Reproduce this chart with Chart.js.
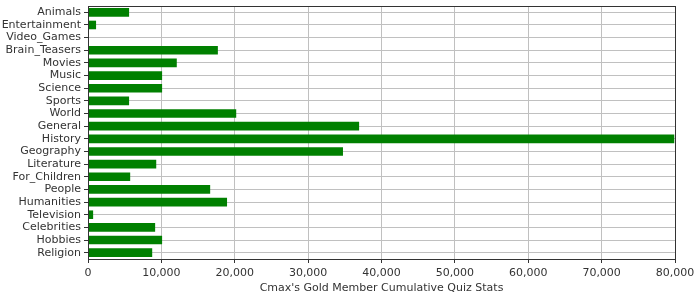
<!DOCTYPE html>
<html>
<head>
<meta charset="utf-8">
<script src="https://cdn.jsdelivr.net/npm/chart.js@4"></script>
<style>
html,body{margin:0;padding:0;background:#fff;}
#wrap{width:700px;height:300px;}
</style>
</head>
<body>
<div id="wrap"><canvas id="c" width="700" height="300"></canvas></div>
<script>
const categories = ["Animals","Entertainment","Video_Games","Brain_Teasers","Movies","Music","Science","Sports","World","General","History","Geography","Literature","For_Children","People","Humanities","Television","Celebrities","Hobbies","Religion"];
const values = [5600,1100,0,17700,12100,10100,10100,5600,20200,36950,79900,34750,9300,5750,16650,18950,700,9150,10100,8750];
const xTicks = [0,10000,20000,30000,40000,50000,60000,70000,80000];
const axisTitle = "Cmax's Gold Member Cumulative Quiz Stats";

const frame = {
  id: 'frame',
  afterDatasetsDraw(chart) {
    const a = chart.chartArea, ctx = chart.ctx;
    ctx.save();
    ctx.strokeStyle = '#333333';
    ctx.lineWidth = 1;
    ctx.strokeRect(Math.round(a.left) + 0.5, Math.round(a.top) + 0.5, Math.round(a.right - a.left) , Math.round(a.bottom - a.top));
    ctx.restore();
  }
};

new Chart(document.getElementById('c'), {
  type: 'bar',
  data: {
    labels: categories,
    datasets: [{
      data: values,
      backgroundColor: '#008000',
      borderWidth: 0,
      categoryPercentage: 1,
      barPercentage: 0.68
    }]
  },
  plugins: [frame],
  options: {
    indexAxis: 'y',
    responsive: false,
    animation: false,
    events: [],
    layout: { padding: { top: 6, right: 25, left: 0, bottom: 0 } },
    plugins: { legend: { display: false }, tooltip: { enabled: false } },
    scales: {
      x: {
        min: 0, max: 80000,
        afterBuildTicks(scale) { scale.ticks = xTicks.map(v => ({ value: v })); },
        afterFit(scale) { scale.height = 41; },
        grid: { color: '#c0c0c0', lineWidth: 1, tickColor: '#333333', tickLength: 4, drawTicks: true },
        border: { display: true, color: '#333333' },
        ticks: { color: '#333333', font: { family: 'DejaVu Sans', size: 11 }, padding: 4, maxRotation: 0 },
        title: { display: true, text: axisTitle, color: '#333333', font: { family: 'DejaVu Sans', size: 11 }, padding: { top: 0, bottom: 5 } }
      },
      y: {
        afterFit(scale) { scale.width = 88; scale.paddingTop = 0; scale.paddingBottom = 0; },
        grid: { offset: false, color: '#c0c0c0', lineWidth: 1, tickColor: '#333333', tickLength: 4, drawTicks: true },
        border: { display: true, color: '#333333' },
        ticks: { color: '#333333', font: { family: 'DejaVu Sans', size: 11 }, padding: 3, autoSkip: false }
      }
    }
  }
});
</script>
</body>
</html>
